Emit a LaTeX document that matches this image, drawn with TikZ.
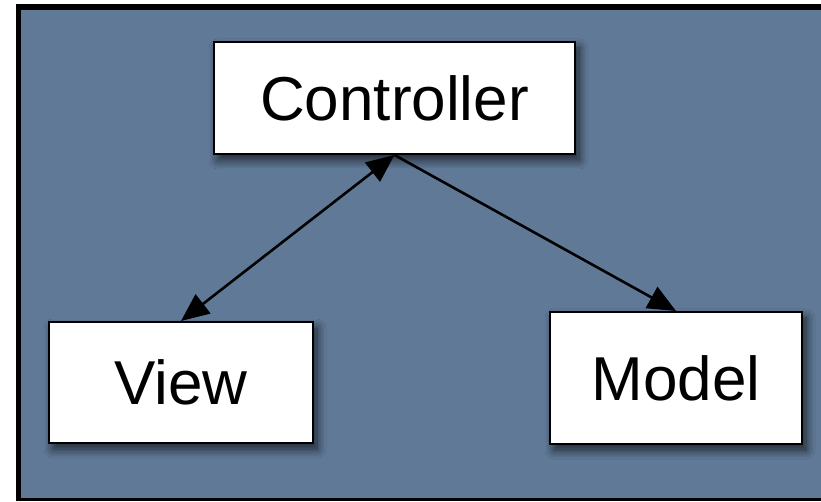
\documentclass[tikz,border=0pt]{standalone}
\usepackage{fontspec}
\setmainfont{Liberation Sans}
\usetikzlibrary{arrows.meta,shadows.blur}

\definecolor{slate}{RGB}{96,121,151}

\tikzset{
  block/.style={draw=black, line width=2pt, fill=white, inner sep=0pt,
    font=\fontsize{62}{62}\selectfont,
    blur shadow={shadow xshift=4pt, shadow yshift=-6pt, shadow blur steps=12,
      shadow blur radius=9pt, shadow opacity=70}},
  link/.style={line width=2.6pt, draw=black},
  bigtri/.tip={Triangle[length=28pt,width=24pt]}
}

\begin{document}
\begin{tikzpicture}[x=1pt, y=1pt]
  % page area and framed slate panel
  \useasboundingbox (0,0) rectangle (821,501);
  \fill[white] (0,0) rectangle (821,501);
  \fill[black] (16,0) rectangle (821,497);
  \fill[slate] (21,3) rectangle (821,491);

  % boxes (pixel grid, y measured upwards)
  \node[block, minimum width=361pt, minimum height=112pt] (controller)
    at (394.5,403) {Controller};
  \node[block, minimum width=264pt, minimum height=121pt] (view)
    at (181,118.5) {View};
  \node[block, minimum width=252pt, minimum height=132pt] (model)
    at (676,123) {Model};

  % connectors
  \draw[link, bigtri-bigtri] (controller.south) -- (view.north);
  \draw[link, -bigtri] (controller.south) -- (model.north);
\end{tikzpicture}
\end{document}
